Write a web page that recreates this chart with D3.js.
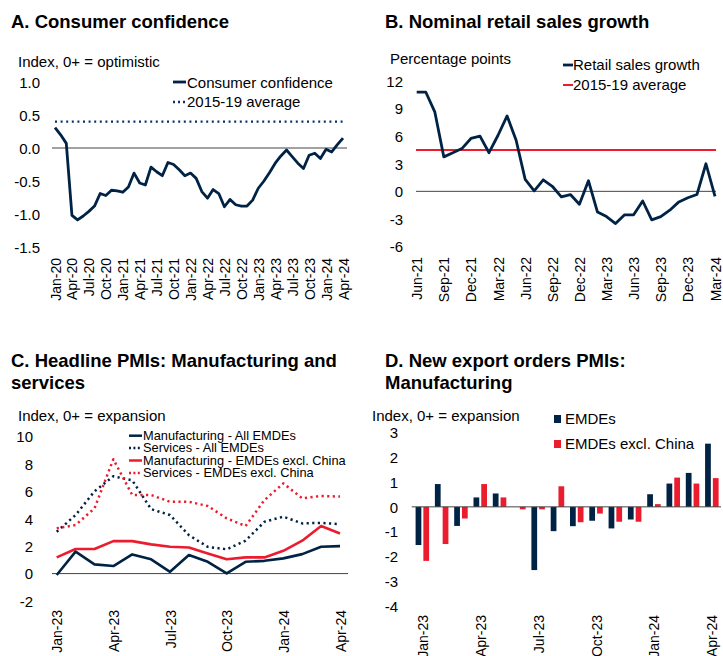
<!DOCTYPE html>
<html><head><meta charset="utf-8">
<script src="https://cdn.jsdelivr.net/npm/d3@7"></script>
<style>body{margin:0;background:#fff} svg{display:block;font-family:"Liberation Sans",Arial,Helvetica,sans-serif}</style>
</head><body><svg id="c" width="723" height="656"></svg>
<script>
// ---------- Panel A data ----------
const monthsA = ["Jan-20","Feb-20","Mar-20","Apr-20","May-20","Jun-20","Jul-20","Aug-20","Sep-20","Oct-20","Nov-20","Dec-20",
"Jan-21","Feb-21","Mar-21","Apr-21","May-21","Jun-21","Jul-21","Aug-21","Sep-21","Oct-21","Nov-21","Dec-21",
"Jan-22","Feb-22","Mar-22","Apr-22","May-22","Jun-22","Jul-22","Aug-22","Sep-22","Oct-22","Nov-22","Dec-22",
"Jan-23","Feb-23","Mar-23","Apr-23","May-23","Jun-23","Jul-23","Aug-23","Sep-23","Oct-23","Nov-23","Dec-23",
"Jan-24","Feb-24","Mar-24","Apr-24"];
const consumerConfidence = [0.31,0.20,0.07,-1.02,-1.09,-1.03,-0.96,-0.88,-0.69,-0.72,-0.64,-0.65,
-0.67,-0.59,-0.38,-0.53,-0.56,-0.29,-0.36,-0.42,-0.22,-0.25,-0.33,-0.42,
-0.38,-0.46,-0.66,-0.76,-0.63,-0.69,-0.89,-0.78,-0.86,-0.88,-0.88,-0.79,
-0.61,-0.50,-0.37,-0.23,-0.12,-0.03,-0.13,-0.23,-0.31,-0.11,-0.08,-0.16,
-0.02,-0.06,0.05,0.15];
const confidenceAvg = 0.40;
const xTicksA = ["Jan-20","Apr-20","Jul-20","Oct-20","Jan-21","Apr-21","Jul-21","Oct-21","Jan-22","Apr-22","Jul-22","Oct-22","Jan-23","Apr-23","Jul-23","Oct-23","Jan-24","Apr-24"];
const yTicksA = [-1.5,-1.0,-0.5,0.0,0.5,1.0];

// ---------- Panel B data ----------
const monthsB = ["Jun-21","Jul-21","Aug-21","Sep-21","Oct-21","Nov-21","Dec-21",
"Jan-22","Feb-22","Mar-22","Apr-22","May-22","Jun-22","Jul-22","Aug-22","Sep-22","Oct-22","Nov-22","Dec-22",
"Jan-23","Feb-23","Mar-23","Apr-23","May-23","Jun-23","Jul-23","Aug-23","Sep-23","Oct-23","Nov-23","Dec-23",
"Jan-24","Feb-24","Mar-24"];
const retailSales = [10.8,10.8,8.65,3.75,4.2,4.65,5.75,6.0,4.2,6.1,8.2,5.55,1.3,0.05,1.25,0.55,-0.6,-0.35,-1.4,1.15,
-2.25,-2.75,-3.5,-2.55,-2.55,-1.05,-3.1,-2.75,-2.05,-1.15,-0.7,-0.35,3.0,-0.55];
const retailAvg = 4.5;
const xTicksB = ["Jun-21","Sep-21","Dec-21","Mar-22","Jun-22","Sep-22","Dec-22","Mar-23","Jun-23","Sep-23","Dec-23","Mar-24"];
const yTicksB = [-6,-3,0,3,6,9,12];

// ---------- Panel C data ----------
const monthsC = ["Jan-23","Feb-23","Mar-23","Apr-23","May-23","Jun-23","Jul-23","Aug-23","Sep-23","Oct-23","Nov-23","Dec-23","Jan-24","Feb-24","Mar-24","Apr-24"];
const mfgAll   = [-0.1,1.6,0.67,0.55,1.4,1.04,0.13,1.35,0.86,0.02,0.86,0.93,1.11,1.42,1.96,2.0];
const srvAll   = [3.05,4.27,6.0,7.1,6.8,4.7,4.27,2.8,1.95,1.77,2.4,3.78,4.15,3.66,3.7,3.6];
const mfgExChina = [1.18,1.79,1.79,2.37,2.37,2.13,1.96,1.9,1.47,1.04,1.18,1.18,1.66,2.4,3.47,2.93];
const srvExChina = [3.3,3.54,4.76,8.34,5.73,5.73,5.24,5.24,4.93,4.03,3.47,5.36,6.58,5.49,5.66,5.62];
const seriesNamesC = ["Manufacturing - All EMDEs","Services - All EMDEs","Manufacturing - EMDEs excl. China","Services - EMDEs excl. China"];
const xTicksC = ["Jan-23","Apr-23","Jul-23","Oct-23","Jan-24","Apr-24"];
const yTicksC = [-2,0,2,4,6,8,10];

// ---------- Panel D data ----------
const exportAll = [-1.54,0.92,-0.77,0.38,0.54,0,-2.55,-0.98,-0.78,-0.56,-0.87,-0.51,0.51,0.94,1.37,2.55];
const exportExChina = [-2.18,-1.5,-0.47,0.92,0.38,-0.1,-0.1,0.83,-0.62,-0.27,-0.6,-0.6,0.11,1.18,0.94,1.16];
const seriesNamesD = ["EMDEs","EMDEs excl. China"];
const yTicksD = [-4,-3,-2,-1,0,1,2,3];

const NAVY = "#002345", RED = "#EB1C2D", DOTBLUE = "#0d2f6e";
const svg = d3.select("#c");

function text(x, y, s, size, weight, anchor) {
  return svg.append("text").attr("x", x).attr("y", y).attr("font-size", size)
    .attr("font-weight", weight || "normal").attr("text-anchor", anchor || "start").attr("fill", "#000").text(s);
}
function yAxis(scale, ticks, xPos, fmt) {
  const g = svg.append("g").attr("transform", `translate(${xPos},0)`)
    .call(d3.axisLeft(scale).tickValues(ticks).tickSize(0).tickPadding(0).tickFormat(fmt));
  g.select(".domain").remove();
  g.selectAll("text").attr("font-size", 15).attr("fill", "#000").attr("dy", "0.35em");
  g.attr("font-family", null);
}
function xAxis(scale, ticks, yPos) {
  const g = svg.append("g").attr("transform", `translate(0,${yPos})`)
    .call(d3.axisBottom(scale).tickValues(ticks).tickSize(0));
  g.select(".domain").remove();
  g.attr("font-family", null);
  g.selectAll("text").attr("font-size", 14).attr("fill", "#000")
    .attr("transform", "rotate(-90)").attr("text-anchor", "end")
    .attr("x", 0).attr("y", 0).attr("dy", "0.36em");
}
function zeroLine(y, x1, x2) {
  svg.append("line").attr("x1", x1).attr("x2", x2).attr("y1", y(0)).attr("y2", y(0))
    .attr("stroke", "#444").attr("stroke-width", 1);
}
function drawLine(x, y, cats, vals, color, width, dash) {
  const line = d3.line().x((d, i) => x(cats[i])).y(d => y(d));
  const p = svg.append("path").datum(vals).attr("d", line).attr("fill", "none")
    .attr("stroke", color).attr("stroke-width", width).attr("stroke-linejoin", "round");
  if (dash) p.attr("stroke-dasharray", dash);
}

// ================= Panel A =================
{
  const x = d3.scalePoint().domain(monthsA).range([55, 343]);
  const y = d3.scaleLinear().domain([-1.5, 1.0]).range([247, 82]);
  text(11, 28, "A. Consumer confidence", 18.5, "bold");
  text(18, 67, "Index, 0+ = optimistic", 15);
  yAxis(y, yTicksA, 40, d => d.toFixed(1));
  zeroLine(y, 52, 347);
  svg.append("line").attr("x1", x(monthsA[0])).attr("x2", x(monthsA[monthsA.length - 1]))
    .attr("y1", y(confidenceAvg)).attr("y2", y(confidenceAvg))
    .attr("stroke", DOTBLUE).attr("stroke-width", 2.3).attr("stroke-dasharray", "2,3.6");
  drawLine(x, y, monthsA, consumerConfidence, NAVY, 2.8);
  xAxis(x, xTicksA, 258);
  svg.append("line").attr("x1", 173).attr("x2", 186).attr("y1", 82).attr("y2", 82).attr("stroke", NAVY).attr("stroke-width", 2.8);
  text(187, 87.5, "Consumer confidence", 15);
  svg.append("line").attr("x1", 173).attr("x2", 186).attr("y1", 102).attr("y2", 102).attr("stroke", DOTBLUE).attr("stroke-width", 2.3).attr("stroke-dasharray", "2,3");
  text(187, 107, "2015-19 average", 15);
}

// ================= Panel B =================
{
  const x = d3.scalePoint().domain(monthsB).range([416.7, 715]);
  const y = d3.scaleLinear().domain([-6, 12]).range([246.5, 81]);
  text(385, 28, "B. Nominal retail sales growth", 18.5, "bold");
  text(390, 64, "Percentage points", 15);
  yAxis(y, yTicksB, 403, d => String(d));
  zeroLine(y, 416, 716);
  svg.append("line").attr("x1", 416).attr("x2", 716).attr("y1", y(retailAvg)).attr("y2", y(retailAvg))
    .attr("stroke", RED).attr("stroke-width", 2);
  drawLine(x, y, monthsB, retailSales, NAVY, 2.8);
  xAxis(x, xTicksB, 257);
  svg.append("line").attr("x1", 563).attr("x2", 573).attr("y1", 65).attr("y2", 65).attr("stroke", NAVY).attr("stroke-width", 2.8);
  text(573, 70, "Retail sales growth", 15);
  svg.append("line").attr("x1", 563).attr("x2", 573).attr("y1", 85).attr("y2", 85).attr("stroke", RED).attr("stroke-width", 2);
  text(573, 90, "2015-19 average", 15);
}

// ================= Panel C =================
{
  const x = d3.scalePoint().domain(monthsC).range([56.7, 340]);
  const y = d3.scaleLinear().domain([-2, 10]).range([601, 436.5]);
  text(11, 366.5, "C. Headline PMIs: Manufacturing and", 18.5, "bold");
  text(11, 388.5, "services", 18.5, "bold");
  text(18, 421, "Index, 0+ = expansion", 15);
  yAxis(y, yTicksC, 33, d => String(d));
  zeroLine(y, 52, 348);
  const series = [
    {vals: srvAll, color: NAVY, w: 2.5, dash: "2.2,3.4"},
    {vals: srvExChina, color: RED, w: 2.5, dash: "2.2,3.4"},
    {vals: mfgExChina, color: RED, w: 2.6},
    {vals: mfgAll, color: NAVY, w: 2.6}
  ];
  series.forEach(s => drawLine(x, y, monthsC, s.vals, s.color, s.w, s.dash));
  xAxis(x, xTicksC, 610);
  const leg = [
    {name: seriesNamesC[0], color: NAVY, dash: null},
    {name: seriesNamesC[1], color: NAVY, dash: "2,2.4"},
    {name: seriesNamesC[2], color: RED, dash: null},
    {name: seriesNamesC[3], color: RED, dash: "2,2.4"}
  ];
  leg.forEach((l, i) => {
    const by = 440 + i * 12.4;
    const ln = svg.append("line").attr("x1", 129).attr("x2", 142).attr("y1", by - 4.3).attr("y2", by - 4.3)
      .attr("stroke", l.color).attr("stroke-width", 2.5);
    if (l.dash) ln.attr("stroke-dasharray", l.dash);
    text(143, by, l.name, 12.8);
  });
}

// ================= Panel D =================
{
  const x0 = d3.scaleBand().domain(monthsC).range([412.7, 721.5]).paddingInner(0.3).paddingOuter(0.15);
  const x1 = d3.scaleBand().domain([0, 1]).range([0, x0.bandwidth()]).paddingInner(0.26);
  const y = d3.scaleLinear().domain([-4, 3]).range([606, 432.5]);
  text(385, 366.5, "D. New export orders PMIs:", 18.5, "bold");
  text(385, 388.5, "Manufacturing", 18.5, "bold");
  text(372, 421, "Index, 0+ = expansion", 15);
  yAxis(y, yTicksD, 398, d => String(d));
  const data = [exportAll, exportExChina];
  const colors = [NAVY, RED];
  data.forEach((vals, si) => {
    svg.append("g").selectAll("rect").data(vals).join("rect")
      .attr("x", (d, i) => x0(monthsC[i]) + x1(si))
      .attr("width", x1.bandwidth())
      .attr("y", d => y(Math.max(0, d)))
      .attr("height", d => Math.abs(y(d) - y(0)))
      .attr("fill", colors[si]);
  });
  zeroLine(y, 411.7, 721);
  const xc = d3.scalePoint().domain(monthsC).range([x0(monthsC[0]) + x0.bandwidth() / 2, x0(monthsC[15]) + x0.bandwidth() / 2]);
  xAxis(xc, xTicksC, 615);
  seriesNamesD.forEach((n, i) => {
    const by = 424 + i * 25;
    svg.append("rect").attr("x", 554).attr("y", by - 9).attr("width", 7).attr("height", 8).attr("fill", colors[i]);
    text(565, by, n, 15);
  });
}
</script>
</body></html>
